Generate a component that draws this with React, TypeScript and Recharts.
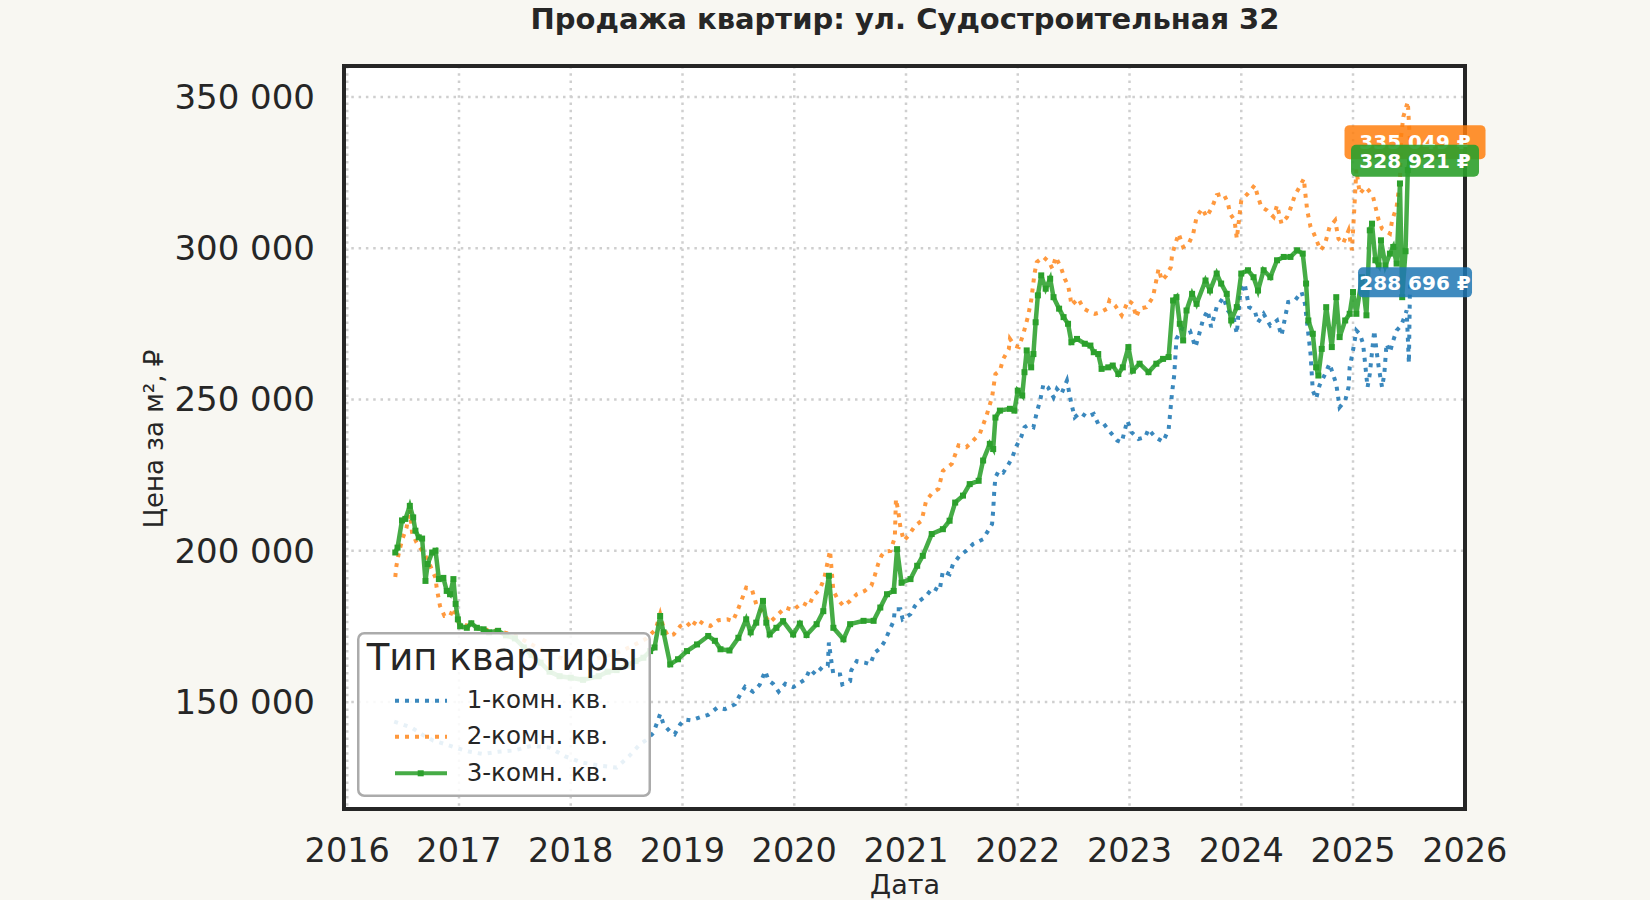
import React from "react";
import {
  LineChart,
  Line,
  XAxis,
  YAxis,
  CartesianGrid,
  ReferenceArea,
  Legend,
  LabelList,
} from "recharts";

const FONT = '"DejaVu Sans", "Noto Sans", sans-serif';
const INK = "#262626";

const yearTicks = [2016, 2017, 2018, 2019, 2020, 2021, 2022, 2023, 2024, 2025, 2026];
const priceTicks = [150000, 200000, 250000, 300000, 350000];
const xDomain: [number, number] = [2015.971, 2026.002];
const yDomain: [number, number] = [114600, 360220];

const seriesNames = ["1-комн. кв.", "2-комн. кв.", "3-комн. кв."];
const seriesColors = ["#1f77b4", "#ff7f0e", "#2ca02c"];

// [год, цена за м² в тыс. ₽]
const oneRoom: [number, number][] = [
  [2016.42, 143.5], [2016.5, 142.5], [2016.58, 141.4], [2016.68, 139], [2016.77, 137.2],
  [2016.88, 136], [2017.0, 134.5], [2017.1, 133.5], [2017.21, 132.8], [2017.35, 133.5],
  [2017.5, 134], [2017.65, 135.5], [2017.81, 134.9], [2017.95, 132], [2018.1, 130],
  [2018.25, 129], [2018.41, 128.3], [2018.52, 132], [2018.62, 136], [2018.68, 137.5],
  [2018.74, 139.8], [2018.8, 146], [2018.83, 142.6], [2018.89, 140.1], [2018.93, 139.3],
  [2018.98, 142.6], [2019.02, 144.2], [2019.08, 143.9], [2019.16, 145], [2019.23, 145.7],
  [2019.31, 148.1], [2019.38, 147.6], [2019.47, 149.2], [2019.51, 152], [2019.56, 155],
  [2019.63, 153.4], [2019.69, 155.6], [2019.74, 160.2], [2019.77, 157.1], [2019.81, 156],
  [2019.86, 153.4], [2019.92, 156], [2019.99, 154.9], [2020.05, 156.3], [2020.1, 157.5],
  [2020.14, 160.8], [2020.19, 159.1], [2020.25, 161.5], [2020.3, 161.9], [2020.31, 169.6],
  [2020.33, 164], [2020.35, 159.1], [2020.41, 159.1], [2020.43, 155.8], [2020.5, 156.9],
  [2020.51, 160.4], [2020.56, 163.5], [2020.63, 163], [2020.68, 162.4], [2020.72, 166.3],
  [2020.77, 167.7], [2020.81, 170.1], [2020.85, 173.5], [2020.89, 176.8], [2020.9, 180.6],
  [2020.95, 180.6], [2020.97, 177.3], [2021.04, 179], [2021.08, 181.7], [2021.12, 183.4],
  [2021.18, 185], [2021.24, 187.8], [2021.3, 186.7], [2021.33, 193.3], [2021.39, 192.2],
  [2021.42, 195.5], [2021.48, 198.3], [2021.54, 200], [2021.6, 202.2], [2021.69, 203.8],
  [2021.77, 208.8], [2021.78, 213.2], [2021.79, 220], [2021.8, 224.2], [2021.83, 226.4],
  [2021.87, 225.8], [2021.92, 228.7], [2021.95, 230.8], [2021.99, 234.7], [2022.03, 237.5],
  [2022.06, 240.8], [2022.09, 241.5], [2022.14, 240.8], [2022.17, 245.7], [2022.2, 249.6],
  [2022.23, 255.1], [2022.27, 254], [2022.32, 250.7], [2022.35, 253.5], [2022.39, 251.8],
  [2022.44, 256.2], [2022.48, 248.5], [2022.51, 244.1], [2022.56, 245.7], [2022.62, 244.1],
  [2022.68, 245.2], [2022.72, 241.9], [2022.77, 241.9], [2022.83, 239.1], [2022.89, 236.4],
  [2022.93, 235.8], [2022.98, 243], [2023.02, 239.1], [2023.08, 236.9], [2023.14, 237.5],
  [2023.17, 240.2], [2023.23, 237.5], [2023.3, 236], [2023.35, 240], [2023.38, 252],
  [2023.4, 258], [2023.42, 270], [2023.47, 273.4], [2023.54, 272.8], [2023.59, 267.3],
  [2023.62, 271.1], [2023.66, 276.7], [2023.7, 279.4], [2023.73, 273.9], [2023.78, 280.5],
  [2023.84, 283.8], [2023.88, 279.4], [2023.93, 277.2], [2023.96, 271.7], [2023.99, 284.9],
  [2024.03, 288.3], [2024.07, 280.5], [2024.12, 279.4], [2024.15, 275.5], [2024.2, 278.3],
  [2024.26, 274.4], [2024.32, 276.1], [2024.36, 271.1], [2024.42, 282.2], [2024.48, 282.7],
  [2024.54, 285.5], [2024.57, 281.6], [2024.6, 271.7], [2024.62, 265], [2024.64, 252.9],
  [2024.67, 250.2], [2024.7, 254.6], [2024.75, 258.4], [2024.79, 261.8], [2024.82, 258.4],
  [2024.85, 255.1], [2024.88, 247.4], [2024.93, 249.6], [2024.96, 254], [2024.97, 260.6],
  [2025.0, 266.2], [2025.03, 272.8], [2025.06, 271.7], [2025.09, 268.4], [2025.11, 261.2],
  [2025.13, 254], [2025.15, 258.4], [2025.19, 272.8], [2025.21, 266.2], [2025.23, 260.6],
  [2025.26, 254], [2025.28, 258.4], [2025.3, 268.4], [2025.33, 265.6], [2025.36, 269.5],
  [2025.39, 272.8], [2025.43, 274.4], [2025.46, 277.2], [2025.48, 279.4], [2025.5, 262],
  [2025.51, 288.696],
];

const twoRoom: [number, number][] = [
  [2016.43, 191.3], [2016.44, 195], [2016.46, 198.9], [2016.49, 203.5], [2016.53, 207.5],
  [2016.56, 213.7], [2016.58, 206], [2016.62, 202.7], [2016.67, 200], [2016.72, 197],
  [2016.76, 193.5], [2016.79, 191.1], [2016.8, 187.8], [2016.83, 181.7], [2016.87, 178.4],
  [2016.92, 178.4], [2016.95, 181], [2017.0, 176], [2017.1, 175], [2017.2, 174],
  [2017.35, 173.5], [2017.5, 172], [2017.65, 169], [2017.8, 166], [2017.95, 164],
  [2018.1, 163], [2018.25, 164.5], [2018.4, 166], [2018.55, 168.5], [2018.68, 171],
  [2018.76, 174], [2018.8, 179], [2018.83, 174.5], [2018.87, 171.8], [2018.92, 172.3],
  [2018.98, 175.1], [2019.04, 176.2], [2019.08, 174.5], [2019.13, 177.3], [2019.19, 175.7],
  [2019.25, 175.1], [2019.32, 177], [2019.4, 177.3], [2019.45, 176.7], [2019.49, 180],
  [2019.52, 182.8], [2019.57, 187.8], [2019.62, 187.3], [2019.66, 182.3], [2019.72, 179.5],
  [2019.78, 176.2], [2019.84, 178.4], [2019.92, 181.2], [2019.99, 180.3], [2020.07, 182.8],
  [2020.13, 181.7], [2020.17, 185], [2020.23, 187.3], [2020.27, 191.1], [2020.32, 200],
  [2020.35, 186.7], [2020.39, 183.9], [2020.44, 181.7], [2020.5, 183.4], [2020.56, 185.6],
  [2020.63, 186.7], [2020.69, 188.4], [2020.72, 191.7], [2020.75, 195.5], [2020.78, 198.3],
  [2020.81, 199.7], [2020.86, 199.9], [2020.9, 204.4], [2020.91, 217.1], [2020.93, 213.2],
  [2020.95, 207.7], [2020.98, 203.3], [2021.02, 204.9], [2021.08, 208.2], [2021.14, 209.9],
  [2021.18, 216.5], [2021.24, 219.3], [2021.29, 220.4], [2021.33, 226.4], [2021.41, 228.7],
  [2021.47, 234.8], [2021.54, 234.2], [2021.6, 236.4], [2021.66, 238.6], [2021.72, 244.6],
  [2021.77, 250.7], [2021.8, 258.4], [2021.84, 259.5], [2021.87, 263.4], [2021.92, 266.7],
  [2021.93, 270], [2021.97, 267.8], [2022.01, 267.3], [2022.05, 271.7], [2022.09, 277.2],
  [2022.12, 282.7], [2022.15, 291.6], [2022.17, 295.4], [2022.23, 297.1], [2022.28, 295.4],
  [2022.31, 293.2], [2022.34, 297.1], [2022.39, 293.2], [2022.42, 289.9], [2022.45, 287.7],
  [2022.47, 283.8], [2022.48, 281.1], [2022.54, 283.3], [2022.59, 280], [2022.65, 278.8],
  [2022.69, 278.3], [2022.74, 278.8], [2022.8, 280], [2022.82, 282.7], [2022.87, 281.1],
  [2022.93, 277.8], [2022.99, 282.7], [2023.03, 281.6], [2023.06, 277.2], [2023.09, 280],
  [2023.15, 280.5], [2023.21, 283.8], [2023.26, 293.2], [2023.29, 289.3], [2023.33, 291],
  [2023.37, 293.7], [2023.38, 297.6], [2023.41, 301.5], [2023.44, 304.8], [2023.48, 300.4],
  [2023.53, 301.5], [2023.57, 304.8], [2023.6, 310.3], [2023.65, 313.1], [2023.69, 310.3],
  [2023.74, 313.6], [2023.78, 317.5], [2023.84, 318.1], [2023.88, 315], [2023.9, 311.4],
  [2023.94, 309.2], [2023.96, 303.1], [2024.0, 315.8], [2024.06, 318.1], [2024.12, 320.8],
  [2024.15, 316.9], [2024.18, 313.6], [2024.23, 312.5], [2024.29, 310.3], [2024.32, 314.2],
  [2024.36, 308.1], [2024.41, 310.3], [2024.44, 313.1], [2024.48, 317.5], [2024.53, 320.8],
  [2024.56, 323], [2024.57, 319.1], [2024.59, 312.5], [2024.62, 307], [2024.65, 304.8],
  [2024.68, 302], [2024.71, 299.3], [2024.75, 301.5], [2024.79, 307], [2024.84, 309.2],
  [2024.87, 303.1], [2024.91, 301.5], [2024.96, 305.9], [2024.99, 299.3], [2025.01, 312],
  [2025.03, 326], [2025.06, 318], [2025.11, 320.2], [2025.14, 319.1], [2025.18, 316.9],
  [2025.23, 309.2], [2025.26, 306.4], [2025.33, 304.8], [2025.35, 309.2], [2025.39, 313.6],
  [2025.42, 322.5], [2025.43, 336.8], [2025.45, 343.4], [2025.49, 348.4], [2025.51, 335.049],
];

const threeRoom: [number, number][] = [
  [2016.43, 199.4], [2016.45, 201], [2016.49, 210], [2016.52, 210.5], [2016.56, 214.8],
  [2016.59, 211], [2016.61, 206.6], [2016.64, 204.4], [2016.67, 204], [2016.7, 190],
  [2016.72, 195.6], [2016.76, 199.4], [2016.79, 200], [2016.82, 190.6], [2016.86, 191],
  [2016.89, 186.7], [2016.92, 185.6], [2016.95, 190.6], [2016.97, 182.4], [2016.99, 177.3],
  [2017.01, 175], [2017.07, 174.5], [2017.11, 176], [2017.16, 174.5], [2017.22, 174],
  [2017.27, 173], [2017.35, 173.5], [2017.42, 172], [2017.5, 171], [2017.58, 168],
  [2017.65, 165.5], [2017.73, 163], [2017.81, 160], [2017.9, 158.5], [2018.0, 158],
  [2018.11, 157.3], [2018.25, 158.5], [2018.33, 160], [2018.41, 160.5], [2018.5, 162],
  [2018.58, 163.5], [2018.65, 164.6], [2018.71, 166.8], [2018.75, 168], [2018.8, 178.4],
  [2018.83, 173], [2018.89, 162.4], [2018.96, 164.1], [2019.04, 166.8], [2019.13, 169],
  [2019.23, 171.8], [2019.29, 170.2], [2019.34, 167.4], [2019.42, 167], [2019.5, 171.2],
  [2019.57, 177.3], [2019.61, 173], [2019.66, 176.2], [2019.72, 183.4], [2019.75, 176.2],
  [2019.78, 172.3], [2019.84, 174.5], [2019.9, 176.7], [2019.99, 172.3], [2020.05, 175.9],
  [2020.11, 172.1], [2020.2, 175.7], [2020.26, 180], [2020.31, 191.7], [2020.35, 174.5],
  [2020.44, 170.7], [2020.5, 175.7], [2020.62, 176.8], [2020.71, 176.8], [2020.77, 181.2],
  [2020.83, 185.6], [2020.89, 186.7], [2020.92, 200.5], [2020.96, 189.4], [2021.04, 190.6],
  [2021.1, 195], [2021.15, 198.3], [2021.23, 205.5], [2021.33, 207.1], [2021.39, 209.9],
  [2021.44, 215.9], [2021.51, 218.2], [2021.57, 222], [2021.65, 223.1], [2021.69, 229.8],
  [2021.75, 235.3], [2021.78, 233.6], [2021.8, 244], [2021.84, 246.3], [2021.93, 246.9],
  [2021.97, 246.3], [2022.0, 252.9], [2022.04, 251.3], [2022.06, 259], [2022.08, 266.2],
  [2022.12, 260.6], [2022.14, 265], [2022.16, 275.5], [2022.18, 284.4], [2022.21, 291],
  [2022.25, 286.6], [2022.29, 289.9], [2022.32, 283.8], [2022.37, 280], [2022.41, 277.2],
  [2022.45, 275], [2022.48, 268.9], [2022.53, 270], [2022.6, 268.4], [2022.65, 267.8],
  [2022.68, 265.6], [2022.72, 265], [2022.75, 260.1], [2022.81, 260.6], [2022.85, 261.2],
  [2022.9, 258.4], [2022.94, 260.6], [2022.99, 267.3], [2023.03, 259.5], [2023.09, 261.8],
  [2023.17, 259], [2023.24, 261.8], [2023.3, 263.4], [2023.35, 264], [2023.39, 282.7],
  [2023.42, 283.8], [2023.45, 275], [2023.48, 269.5], [2023.51, 279.4], [2023.56, 284.9],
  [2023.6, 281.6], [2023.68, 289.3], [2023.72, 286], [2023.78, 291.6], [2023.82, 288.3],
  [2023.87, 284.9], [2023.91, 276.1], [2023.96, 280.5], [2024.0, 291.6], [2024.06, 292.7],
  [2024.11, 290.4], [2024.15, 286], [2024.2, 292.7], [2024.26, 290.4], [2024.32, 296],
  [2024.38, 297.1], [2024.44, 297.1], [2024.5, 299.3], [2024.55, 298.2], [2024.58, 288.3],
  [2024.6, 276.1], [2024.64, 271.7], [2024.67, 260.6], [2024.69, 257.9], [2024.72, 266.7],
  [2024.76, 280.5], [2024.81, 267.3], [2024.85, 283.8], [2024.88, 270.6], [2024.93, 276.1],
  [2024.97, 278.3], [2025.0, 285.5], [2025.03, 278.3], [2025.08, 290.4], [2025.12, 277.8],
  [2025.15, 305.9], [2025.17, 308.1], [2025.2, 296], [2025.23, 294.3], [2025.25, 302.6],
  [2025.29, 294.3], [2025.33, 298.2], [2025.36, 300.4], [2025.39, 294.9], [2025.42, 321.4],
  [2025.44, 283.8], [2025.47, 299], [2025.49, 325.8], [2025.51, 328.921],
];

// размеры плашек с последним значением: [ширина, высота]
const endBoxSizes: [number, number][] = [[114, 30], [141, 34], [128, 32]];

const toRows = (pts: [number, number][]) => pts.map(([t, v]) => ({ t, price: v * 1000 }));
const seriesData = [oneRoom, twoRoom, threeRoom].map(toRows);

const groupThousands = (v: number) =>
  String(Math.round(v)).replace(/\B(?=(\d{3})+(?!\d))/g, " ");

function makeEndLabel(i: number) {
  const lastIndex = seriesData[i].length - 1;
  const [w, h] = endBoxSizes[i];
  return (props: any) => {
    if (props.index !== lastIndex) return null;
    const x = props.x ?? props.viewBox?.x;
    const y = props.y ?? props.viewBox?.y;
    if (x == null || y == null) return null;
    const cx = x + 5;
    return (
      <g>
        <rect
          x={cx - w / 2}
          y={y - h / 2}
          width={w}
          height={h}
          rx={5}
          fill={seriesColors[i]}
          fillOpacity={i === 2 ? 0.9 : 0.85}
        />
        <text
          x={cx}
          y={y}
          dy="0.36em"
          textAnchor="middle"
          fill="#ffffff"
          fontFamily={FONT}
          fontWeight="bold"
          fontSize={20}
        >
          {groupThousands(props.value) + " ₽"}
        </text>
      </g>
    );
  };
}

const squareDot = (p: any) => (
  <rect key={`m-${p.index}`} x={p.cx - 3} y={p.cy - 3} width={6} height={6} fill="#2ca02c" />
);

function LegendBox() {
  const rowY = [68.7, 104.7, 141.3];
  return (
    <svg width={294} height={165} style={{ display: "block" }}>
      <rect x={1.25} y={1.25} width={291.5} height={162.5} rx={6} fill="#ffffff" fillOpacity={0.88} stroke="#ababab" strokeWidth={2.5} />
      <text x={9.7} y={38} fontFamily={FONT} fontSize={37} fill={INK}>
        Тип квартиры
      </text>
      {seriesNames.map((name, i) => (
        <g key={name}>
          <line
            x1={38}
            x2={90}
            y1={rowY[i]}
            y2={rowY[i]}
            stroke={seriesColors[i]}
            strokeOpacity={i === 1 ? 0.8 : 0.88}
            strokeWidth={4}
            strokeDasharray={i < 2 ? "4 6" : undefined}
          />
          {i === 2 && <rect x={60.7} y={rowY[i] - 3} width={6} height={6} fill="#2ca02c" />}
          <text x={109.7} y={rowY[i] + 7.6} fontFamily={FONT} fontSize={24.5} fill={INK}>
            {name}
          </text>
        </g>
      ))}
    </svg>
  );
}

export default function App() {
  return (
    <div
      style={{
        position: "fixed",
        left: 0,
        top: 0,
        width: 1650,
        height: 900,
        background: "#f8f7f2",
        fontFamily: FONT,
      }}
    >
      <LineChart width={1650} height={900} margin={{ top: 66, right: 185, bottom: 31, left: 0 }}>
        <CartesianGrid
          fill="#ffffff"
          stroke="#cfcfcf"
          strokeWidth={2.5}
          strokeDasharray="2.5 4.8"
        />
        <XAxis
          type="number"
          dataKey="t"
          domain={xDomain}
          ticks={yearTicks}
          allowDataOverflow
          height={60}
          axisLine={false}
          tickLine={false}
          tickSize={0}
          tickMargin={29}
          tick={{ fill: INK, fontSize: 33.5, fontFamily: FONT }}
          tickFormatter={(v) => String(v)}
        />
        <YAxis
          type="number"
          domain={yDomain}
          ticks={priceTicks}
          allowDataOverflow
          width={344}
          axisLine={false}
          tickLine={false}
          tickSize={0}
          tickMargin={29}
          tick={{ fill: INK, fontSize: 34, fontFamily: FONT }}
          tickFormatter={groupThousands}
        />
        <Line
          data={seriesData[0]}
          dataKey="price"
          name={seriesNames[0]}
          type="linear"
          stroke={seriesColors[0]}
          strokeOpacity={0.88}
          strokeWidth={4}
          strokeDasharray="4 6"
          dot={false}
          activeDot={false}
          isAnimationActive={false}
        >
          <LabelList dataKey="price" content={makeEndLabel(0)} />
        </Line>
        <Line
          data={seriesData[1]}
          dataKey="price"
          name={seriesNames[1]}
          type="linear"
          stroke={seriesColors[1]}
          strokeOpacity={0.8}
          strokeWidth={4}
          strokeDasharray="4 6"
          dot={false}
          activeDot={false}
          isAnimationActive={false}
        >
          <LabelList dataKey="price" content={makeEndLabel(1)} />
        </Line>
        <Line
          data={seriesData[2]}
          dataKey="price"
          name={seriesNames[2]}
          type="linear"
          stroke={seriesColors[2]}
          strokeOpacity={0.88}
          strokeWidth={4.5}
          dot={squareDot}
          activeDot={false}
          isAnimationActive={false}
        >
          <LabelList dataKey="price" content={makeEndLabel(2)} />
        </Line>
        <ReferenceArea
          x1={xDomain[0]}
          x2={xDomain[1]}
          y1={yDomain[0]}
          y2={yDomain[1]}
          ifOverflow="visible"
          fill="none"
          stroke={INK}
          strokeWidth={4}
        />
        <Legend
          layout="horizontal"
          verticalAlign="middle"
          align="center"
          content={() => <LegendBox />}
          wrapperStyle={{ left: 357, top: 632, width: 294, height: 165 }}
        />
      </LineChart>

      <svg
        width={1650}
        height={900}
        style={{ position: "absolute", left: 0, top: 0, pointerEvents: "none" }}
      >
        <text x={905} y={28.5} textAnchor="middle" fontFamily={FONT} fontWeight="bold" fontSize={29} fill={INK}>
          Продажа квартир: ул. Судостроительная 32
        </text>
        <text x={905} y={893.5} textAnchor="middle" fontFamily={FONT} fontSize={27} fill={INK}>
          Дата
        </text>
        <text
          x={163}
          y={439}
          textAnchor="middle"
          transform="rotate(-90 163 439)"
          fontFamily={FONT}
          fontSize={26}
          fill={INK}
        >
          Цена за м², ₽
        </text>
      </svg>
    </div>
  );
}
